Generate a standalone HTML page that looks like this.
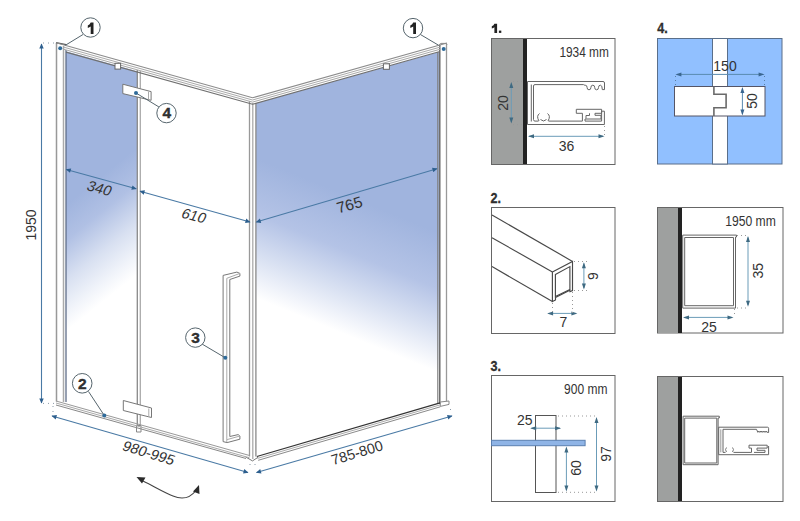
<!DOCTYPE html>
<html><head><meta charset="utf-8">
<style>
html,body{margin:0;padding:0;background:#fff;width:800px;height:521px;overflow:hidden}
svg{display:block}
text{font-family:"Liberation Sans",sans-serif;fill:#333}
</style></head>
<body>
<svg width="800" height="521" viewBox="0 0 800 521">
<defs>
  <linearGradient id="gL" gradientUnits="userSpaceOnUse" x1="78" y1="195" x2="140" y2="272">
    <stop offset="0" stop-color="#a0b4de"/>
    <stop offset="0.28" stop-color="#b0c0e4"/>
    <stop offset="0.6" stop-color="#d8e0f1"/>
    <stop offset="0.85" stop-color="#f1f4fa"/>
    <stop offset="1" stop-color="#ffffff"/>
  </linearGradient>
  <linearGradient id="gR" gradientUnits="userSpaceOnUse" x1="349" y1="196" x2="300" y2="316">
    <stop offset="0" stop-color="#a0b4de"/>
    <stop offset="0.4" stop-color="#b4c3e6"/>
    <stop offset="0.7" stop-color="#d9e1f2"/>
    <stop offset="0.88" stop-color="#f0f3fa"/>
    <stop offset="1" stop-color="#ffffff"/>
  </linearGradient>
  <marker id="ah" viewBox="0 0 10 10" refX="9" refY="5" markerWidth="8" markerHeight="5" orient="auto-start-reverse" markerUnits="userSpaceOnUse">
    <path d="M0,0.5 L10,5 L0,9.5 Z" fill="#2d5f8e"/>
  </marker>
</defs>

<!-- ============ MAIN SHOWER ============ -->
<!-- glass -->
<polygon points="66,51.3 137,71.2 137,421 66,402" fill="url(#gL)"/>
<polygon points="256,103.2 439,52 439,403 256,456.5" fill="url(#gR)"/>

<g fill="none" stroke="#8a8a8a" stroke-width="1">
  <!-- left post -->
  <line x1="56.5" y1="43" x2="56.5" y2="401.5" stroke="#999" stroke-width="1.5"/>
  <line x1="63.5" y1="46" x2="63.5" y2="402" stroke="#aaa" stroke-width="1.5"/>
  <line x1="66" y1="50" x2="66" y2="402" stroke="#5f6d88" stroke-width="1.3"/>
  <path d="M56,42.6 L66,44.6" stroke="#555" stroke-width="1.2"/>
  <!-- door separator -->
  <line x1="137.3" y1="70" x2="137.3" y2="427" stroke="#888" stroke-width="1.3"/>
  <line x1="140.3" y1="71" x2="140.3" y2="428" stroke="#aaa" stroke-width="1.3"/>
  <path d="M136.5,425.5 H141 V432 H136.5 Z" stroke="#888" fill="#fff"/>
  <!-- corner post -->
  <line x1="249.5" y1="101" x2="249.5" y2="456.5" stroke="#999" stroke-width="1.3"/>
  <line x1="252.8" y1="103" x2="252.8" y2="459" stroke="#aaa" stroke-width="1.3"/>
  <line x1="255.9" y1="103" x2="255.9" y2="456.5" stroke="#888" stroke-width="1.3"/>
  <path d="M245.4,456.8 L252.5,460.9 L258.2,457.2" stroke="#777"/>
  <!-- right post -->
  <line x1="437.8" y1="52" x2="437.8" y2="403" stroke="#808080" stroke-width="1.2"/>
  <line x1="439.8" y1="45" x2="439.8" y2="404" stroke="#555" stroke-width="1.3"/>
  <line x1="446.5" y1="44" x2="446.5" y2="402" stroke="#999" stroke-width="1.3"/>
  <path d="M439.1,44.7 L441,43.4 H446.5 L447,44.7" stroke="#888"/>
  <path d="M440.3,402 L449,401 V404.4 L440.3,406.4 Z" stroke="#888" fill="#fff"/>
  <!-- top rails -->
  <polyline points="56,42.80 252.5,97.80 447,43.00" stroke="#8c8c8c" stroke-width="1.1"/>
  <polyline points="63.5,47.10 252.5,100.00 440,47.17" stroke="#aaaaaa" stroke-width="1"/>
  <polyline points="63.5,49.20 252.5,102.10 440,49.27" stroke="#a8a8a8" stroke-width="1"/>
  <polyline points="66,52.11 252.5,104.30 439,51.75" stroke="#6f6f6f" stroke-width="1.1"/>
  <!-- bottom rails: left -->
  <line x1="56" y1="401" x2="249.5" y2="455.5" stroke="#999"/>
  <line x1="56" y1="403" x2="249.5" y2="457.8" stroke="#aaa"/>
  <line x1="56" y1="405" x2="246" y2="458.5" stroke="#888"/>
  <!-- bottom rails: right -->
  <line x1="256.9" y1="456.5" x2="440" y2="402.8" stroke="#333" stroke-width="1.3"/>
  <line x1="257.5" y1="458.4" x2="440.3" y2="404.8" stroke="#aaa"/>
  <line x1="258.2" y1="460.3" x2="440.3" y2="406.8" stroke="#8a8a8a"/>
  <!-- handle -->
  <path d="M223.1,441.6 V275.4 L236.9,272.1 L239.9,273.4 V276.1 L229.8,279.5 V436.5 L238.2,434.6 L239.9,436 V439.2 L227.1,442.6 Z" fill="#fff" stroke="#777"/>
  <path d="M226.8,278.3 V442.3 M226.8,278.3 L239.9,273.4 M227.1,439.6 L239.9,436" stroke="#aaa"/>
  <!-- hinges -->
  <polygon points="122.8,84.2 151.1,91.6 151.1,100.3 122.8,93.6" fill="#fff" stroke="#777"/>
  <line x1="148.5" y1="91.5" x2="148.5" y2="99.6" stroke="#aaa"/>
  <polygon points="123.3,400.5 151.5,408 151.5,417.5 123.3,410.5" fill="#fff" stroke="#777"/>
  <line x1="148.8" y1="408.5" x2="148.8" y2="416.8" stroke="#aaa"/>
  <!-- clips -->
  <rect x="115" y="63.3" width="5.6" height="5.8" fill="#fff" stroke="#666"/>
  <rect x="383.4" y="63.8" width="6" height="5.5" fill="#fff" stroke="#666"/>
</g>

<!-- callouts -->
<g fill="#fff" stroke="#56656d" stroke-width="1">
  <line x1="83" y1="34.5" x2="65.5" y2="45.2"/>
  <line x1="420.4" y1="34.5" x2="438.5" y2="45.2"/>
  <line x1="159" y1="107" x2="136" y2="93"/>
  <line x1="202" y1="344" x2="225.3" y2="357.8"/>
  <line x1="88.5" y1="391.5" x2="104.3" y2="415.5"/>
  <circle cx="90.5" cy="27.5" r="9.7"/>
  <circle cx="413" cy="28.1" r="9.7"/>
  <circle cx="166.5" cy="113.1" r="9.7"/>
  <circle cx="195.3" cy="337.6" r="9.7"/>
  <circle cx="82.2" cy="383.3" r="9.8"/>
</g>
<g fill="#2f6b9a">
  <circle cx="60.2" cy="48.3" r="2"/>
  <circle cx="443.7" cy="49" r="2"/>
  <circle cx="136" cy="93" r="2"/>
  <circle cx="225.3" cy="357.8" r="2"/>
  <circle cx="104.3" cy="415.5" r="2"/>
</g>
<g font-weight="bold" font-size="15.5" text-anchor="middle" style="fill:#222;stroke:#222;stroke-width:0.35">
  <text x="166.8" y="118.3">4</text>
  <text x="195.6" y="342.8">3</text>
  <text x="82.4" y="388.8">2</text>
</g>

<path d="M90.7,22.6 H93.5 V33.9 H90.7 V26.6 Q89.5,27.6 87.8,28 V25.6 Q90.1,24.8 90.7,22.6 Z" fill="#222"/>
<path d="M413.2,22.6 H416 V33.9 H413.2 V26.6 Q412,27.6 410.3,28 V25.6 Q412.6,24.8 413.2,22.6 Z" fill="#222"/>
<!-- dimension lines -->
<g stroke="#4a7aa5" stroke-width="1.1" fill="none" marker-start="url(#ah)" marker-end="url(#ah)">
  <line x1="41.5" y1="44" x2="41.5" y2="403"/>
  <line x1="66.25" y1="169.5" x2="136.25" y2="188.75"/>
  <line x1="140" y1="191.25" x2="250" y2="222"/>
  <line x1="256.25" y1="222" x2="437" y2="168.75"/>
  <line x1="52" y1="416" x2="248" y2="472.5"/>
  <line x1="256.5" y1="472.5" x2="452" y2="416"/>
</g>
<g font-size="14">
  <text transform="translate(36.3,225) rotate(-90)" text-anchor="middle">1950</text>
  <text transform="translate(97.5,193) rotate(15) skewX(-10)" text-anchor="middle" font-size="14.5">340</text>
  <text transform="translate(192,220.3) rotate(15) skewX(-10)" text-anchor="middle" font-size="14.5">610</text>
  <text transform="translate(351,210) rotate(-16)" text-anchor="middle" font-size="15.5">765</text>
  <text transform="translate(146.8,457.5) rotate(17) skewX(-8)" text-anchor="middle" font-size="14.5">980-995</text>
  <text transform="translate(358.5,457.5) rotate(-17)" text-anchor="middle" font-size="14.5">785-800</text>
</g>
<g stroke="#8a9aa8" stroke-width="1" stroke-dasharray="1,4" fill="none">
  <line x1="43" y1="43" x2="55" y2="43"/>
  <line x1="43" y1="403.4" x2="55" y2="403.4"/>
  <line x1="53" y1="406" x2="53" y2="412"/>
  <line x1="250" y1="464" x2="250" y2="469"/>
  <line x1="255" y1="464" x2="255" y2="469"/>
  <line x1="450.5" y1="409" x2="450.5" y2="411"/>
</g>
<!-- rotate arrow -->
<path d="M143,481 C155,487 165,493 173,496 Q187,502 196,490.5" fill="none" stroke="#444" stroke-width="1.1"/>
<path d="M136.5,477 L145.5,477.5 L142,483.5 Z" fill="#2a2a2a"/>
<path d="M199,485 L193,491.5 L199.5,494 Z" fill="#2a2a2a"/>

<!-- ============ RIGHT PANELS ============ -->
<g font-weight="bold" font-size="14.5" style="fill:#222;stroke:#222;stroke-width:0.3">
  <text x="657.2" y="33.2" textLength="10.5" lengthAdjust="spacingAndGlyphs">4.</text>
  <text x="490.6" y="202.5" textLength="10.5" lengthAdjust="spacingAndGlyphs">2.</text>
  <text x="490.6" y="371" textLength="10.5" lengthAdjust="spacingAndGlyphs">3.</text>
</g>

<path d="M494.4,23.8 H497.1 V32.9 H494.4 V27.2 Q493.3,28 491.8,28.4 V26.2 Q493.9,25.5 494.4,23.8 Z" fill="#222"/>
<rect x="498.9" y="30.6" width="2.4" height="2.3" fill="#222"/>
<!-- panel 1 -->
<rect x="491.5" y="38.5" width="123.5" height="126" fill="#fff" stroke="#666"/>
<rect x="492" y="39" width="31" height="125" fill="#9ea09f"/>
<rect x="523" y="39" width="4" height="125" fill="#222"/>
<text x="559.4" y="57" font-size="14" textLength="49.5" lengthAdjust="spacingAndGlyphs">1934 mm</text>
<g fill="none" stroke="#666" stroke-width="1">
  <path d="M527.5,81.5 H603 Q604.5,81.5 604.5,83 V89.6 H602.3 Q602.3,85.2 600.4,85.2 Q598.5,85.2 598.5,87.5 Q598.5,89.8 596.6,89.8 Q594.7,89.8 594.7,87.5 Q594.7,85.2 592.8,85.2 Q590.9,85.2 590.9,87.5 Q590.9,89.8 589,89.8 Q587.1,89.8 587.1,87.5 Q587.1,85.2 585.2,85.2 Q583.8,85.2 583.5,84.6 H535 Q533.5,84.6 533.5,86 V119.6 Q533.5,121.1 535,121.1 H538.5"/>
  <path d="M548.5,121.1 H582.4 V113.3 H576.3 V109.3 H601.6 V113.3 H595 V115.3 H601 V119 H585 V121.1 H601.6 V111.2 H604.4 V124.5 H527.5 V81.5"/>
  <path d="M531.3,84.5 V121.5"/>
  <path d="M586,118.5 V115.5 H589.5 V113.3"/>
  <path d="M539,121 Q536,116 539.5,113.5 M548,121 Q551,116 547.5,113.5 M540.5,119.5 Q543.5,122.5 546.5,119.5"/>
</g>
<g stroke="#6b9cb8" stroke-width="1" fill="none">
  <line x1="511.3" y1="83.5" x2="511.3" y2="122"/>
  <line x1="529" y1="136.3" x2="603" y2="136.3"/>
</g>
<g fill="#3f6a82">
  <path d="M511.3,82 L509.3,88 L513.3,88 Z M511.3,123.5 L509.3,117.5 L513.3,117.5 Z"/>
  <path d="M528,136.3 L534,134.3 L534,138.3 Z M604.5,136.3 L598.5,134.3 L598.5,138.3 Z"/>
</g>
<g stroke="#999" stroke-width="1" stroke-dasharray="1,3" fill="none">
  <line x1="513" y1="81.5" x2="523" y2="81.5"/>
  <line x1="513" y1="124.7" x2="523" y2="124.7"/>
  <line x1="604.5" y1="126" x2="604.5" y2="135"/>
</g>
<text transform="translate(508,103) rotate(-90)" font-size="14" text-anchor="middle">20</text>
<text x="566.5" y="150.5" font-size="14" text-anchor="middle">36</text>

<!-- panel 4 -->
<rect x="657.5" y="38.5" width="124.5" height="125.5" fill="#91c0ff" stroke="#5a6f8a"/>
<rect x="712.5" y="38.5" width="15" height="125.5" fill="#fff" stroke="#5a6f8a"/>
<rect x="674.5" y="86.5" width="90.5" height="29.5" fill="#fff" stroke="#556"/>
<path d="M713.9,86.5 V94.2 H726.1 V107.8 H713.9 V116" fill="none" stroke="#6a6a6a" stroke-width="1.6"/>
<g stroke="#5a8ab0" stroke-width="1" fill="none">
  <line x1="677" y1="74.4" x2="763" y2="74.4"/>
  <line x1="742.4" y1="88.5" x2="742.4" y2="114"/>
</g>
<g fill="#3a6690">
  <path d="M675.4,74.4 L681.4,72.4 L681.4,76.4 Z M764.6,74.4 L758.6,72.4 L758.6,76.4 Z"/>
  <path d="M742.4,87 L740.4,93 L744.4,93 Z M742.4,115.5 L740.4,109.5 L744.4,109.5 Z"/>
</g>
<g stroke="#5a7fa5" stroke-width="1" stroke-dasharray="1,3" fill="none">
  <line x1="675.5" y1="76" x2="675.5" y2="86"/>
  <line x1="764.5" y1="76" x2="764.5" y2="86"/>
</g>
<text x="725" y="70.7" font-size="14" text-anchor="middle">150</text>
<text transform="translate(756.8,101) rotate(-90)" font-size="14" text-anchor="middle">50</text>

<!-- panel 2 -->
<rect x="491.5" y="207.5" width="123.5" height="126" fill="#fff" stroke="#666"/>
<g fill="none" stroke="#484848" stroke-width="1.15">
  <line x1="492" y1="215" x2="572.5" y2="261.4"/>
  <line x1="492" y1="237.8" x2="552.4" y2="271.9"/>
  <line x1="492" y1="266.6" x2="552.4" y2="301.6"/>
  <path d="M552.4,271.9 L572.5,261.4 V290.5 L570,291.6 L569.8,290.2 L555.5,297.5 V300 L552.4,301.6 Z"/>
  <path d="M555.4,274.5 L569.9,266.6 V289.4 L555.4,296.5 Z"/>
</g>
<g stroke="#6b9cb8" stroke-width="1" fill="none">
  <line x1="583.9" y1="263.5" x2="583.9" y2="288"/>
  <line x1="548.5" y1="313.4" x2="576" y2="313.4"/>
</g>
<g fill="#3f6a82">
  <path d="M583.9,262.2 L581.9,268.2 L585.9,268.2 Z M583.9,289.4 L581.9,283.4 L585.9,283.4 Z"/>
  <path d="M547.1,313.4 L553.1,311.4 L553.1,315.4 Z M577.4,313.4 L571.4,311.4 L571.4,315.4 Z"/>
</g>
<g stroke="#999" stroke-width="1" stroke-dasharray="1,3" fill="none">
  <line x1="574" y1="261.5" x2="590" y2="261.5"/>
  <line x1="574" y1="290.5" x2="590" y2="290.5"/>
  <line x1="552.5" y1="303" x2="552.5" y2="313"/>
  <line x1="572.5" y1="292" x2="572.5" y2="313"/>
</g>
<text transform="translate(597.9,276) rotate(-90)" font-size="14" text-anchor="middle">9</text>
<text x="563.3" y="327.3" font-size="14" text-anchor="middle">7</text>

<!-- panel 5 (1950mm) -->
<rect x="657.5" y="207.5" width="125.5" height="125.5" fill="#fff" stroke="#666"/>
<rect x="658" y="208" width="20" height="125" fill="#9ea09f"/>
<rect x="678" y="208" width="4" height="125" fill="#222"/>
<text x="725.2" y="225.6" font-size="14" textLength="50.6" lengthAdjust="spacingAndGlyphs">1950 mm</text>
<g fill="none" stroke="#666" stroke-width="1">
  <path d="M682.7,235.1 H736.5 V237 H735.5 V308.1 H682.7 Z"/>
  <path d="M684.7,237.5 H733.5 V305.7 H684.7 Z"/>
</g>
<g stroke="#6b9cb8" stroke-width="1" fill="none">
  <line x1="748" y1="237.5" x2="748" y2="305"/>
  <line x1="684.5" y1="317.4" x2="732" y2="317.4"/>
</g>
<g fill="#3f6a82">
  <path d="M748,236 L746,242 L750,242 Z M748,306.7 L746,300.7 L750,300.7 Z"/>
  <path d="M683,317.4 L689,315.4 L689,319.4 Z M733.5,317.4 L727.5,315.4 L727.5,319.4 Z"/>
</g>
<g stroke="#999" stroke-width="1" stroke-dasharray="1,3" fill="none">
  <line x1="737" y1="235.5" x2="747" y2="235.5"/>
  <line x1="737" y1="308" x2="747" y2="308"/>
  <line x1="734.5" y1="309" x2="734.5" y2="316"/>
</g>
<text transform="translate(762.7,270.8) rotate(-90)" font-size="14" text-anchor="middle">35</text>
<text x="709.1" y="331.7" font-size="14" text-anchor="middle">25</text>

<!-- panel 3 -->
<rect x="491.5" y="375.5" width="123.5" height="126" fill="#fff" stroke="#666"/>
<text x="564.1" y="393.9" font-size="14" textLength="43.4" lengthAdjust="spacingAndGlyphs">900 mm</text>
<rect x="535.5" y="415.5" width="20.5" height="77" fill="#fff" stroke="#555"/>
<rect x="491.5" y="440.3" width="93.6" height="5.4" fill="#8fb4e6" stroke="#5a7fb0" stroke-width="1"/>
<g stroke="#6b9cb8" stroke-width="1" fill="none">
  <line x1="531.5" y1="428.2" x2="560" y2="428.2"/>
  <line x1="566.4" y1="448" x2="566.4" y2="490"/>
  <line x1="596.5" y1="418.5" x2="596.5" y2="490"/>
</g>
<g fill="#3f6a82">
  <path d="M530.2,428.2 L536.2,426.2 L536.2,430.2 Z M561.1,428.2 L555.1,426.2 L555.1,430.2 Z"/>
  <path d="M566.4,446.6 L564.4,452.6 L568.4,452.6 Z M566.4,491.6 L564.4,485.6 L568.4,485.6 Z"/>
  <path d="M596.5,417 L594.5,423 L598.5,423 Z M596.5,491.6 L594.5,485.6 L598.5,485.6 Z"/>
</g>
<g stroke="#999" stroke-width="1" stroke-dasharray="1,3" fill="none">
  <line x1="558" y1="416" x2="597" y2="416"/>
  <line x1="558" y1="492.3" x2="597" y2="492.3"/>
</g>
<text x="524.8" y="424.5" font-size="14" text-anchor="middle">25</text>
<text transform="translate(581.3,468) rotate(-90)" font-size="14" text-anchor="middle">60</text>
<text transform="translate(611,453.9) rotate(-90)" font-size="14" text-anchor="middle">97</text>

<!-- panel 6 -->
<rect x="657.5" y="376.5" width="125.5" height="125" fill="#fff" stroke="#666"/>
<rect x="658" y="377" width="20" height="124" fill="#9ea09f"/>
<rect x="678" y="377" width="4" height="124" fill="#222"/>
<g fill="none" stroke="#666" stroke-width="1">
  <path d="M683.1,416.2 H719.3 V418 H718.1 V464.7 H683.1 Z"/>
  <path d="M684.7,418.1 H716.8 V463 H684.7 Z"/>
  <path d="M718.7,427.2 H767.5 Q768.6,427.2 768.6,428.3 V432.5 H767.3 Q766.6,429.8 765.8,432.3 Q765,429.8 764.2,432.3 Q763.4,429.8 762.6,432.3 Q761.8,429.8 761,432.3 Q760.2,429.8 759.4,432.3 Q758.6,429.8 757.8,432.3 L756.5,429.3 H723 V452.4 H725.5"/>
  <path d="M733.5,452.4 H751.5 V448.1 H749 V445.2 H767.2 V448.1 H757 V450.3 H765 V452.4 H754 M768.6,446 V454.7 H718.7 V427.2"/>
  <path d="M720.8,429.3 V452.4" stroke="#999"/>
  <path d="M726.5,452 Q724.5,449.5 726.5,447.5 M732.5,452 Q734.5,449.5 732.5,447.5" stroke="#777"/>
</g>

</svg>
</body></html>
